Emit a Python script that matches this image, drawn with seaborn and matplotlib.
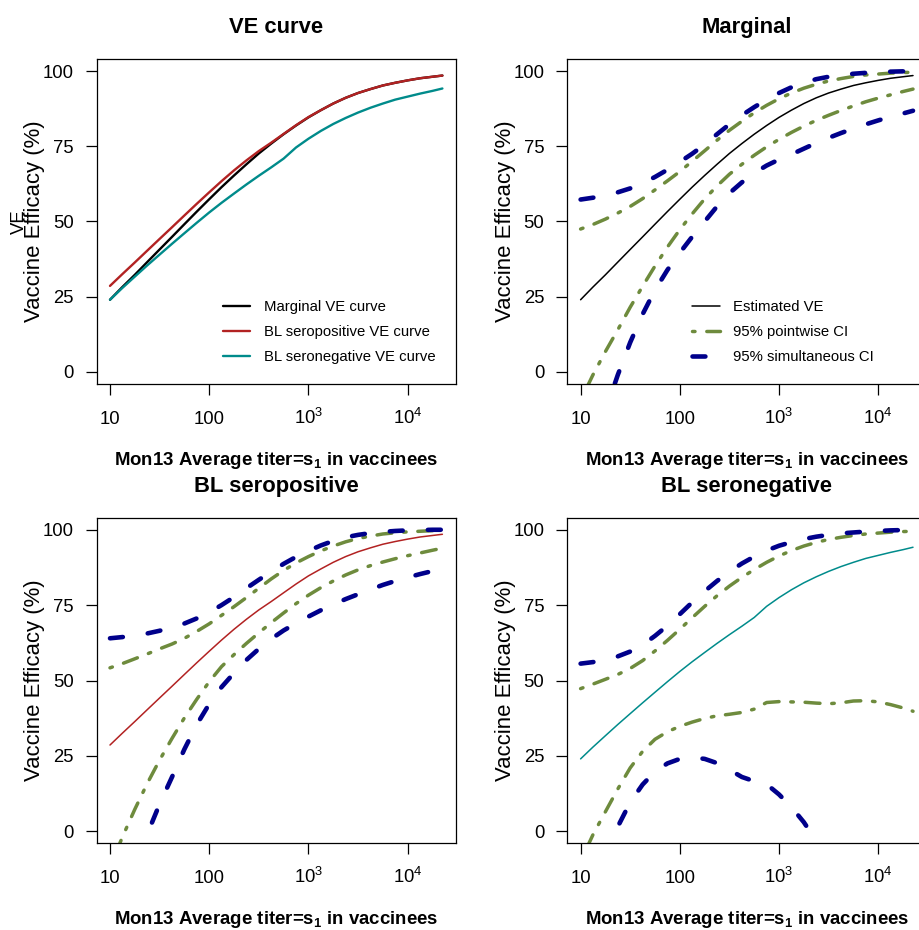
import numpy as np
import pandas as pd
import matplotlib
matplotlib.use("Agg")
import matplotlib.pyplot as plt
from matplotlib.ticker import NullLocator
import seaborn as sns

# Month-13 average titer grid (vaccinees)
titer = [10, 13.3, 17.8, 23.7, 31.6, 42.2, 56.2, 75.0, 100, 133, 178, 237,
         316, 422, 562, 750, 1000, 1334, 1778, 2371, 3162, 4217, 5623, 7499,
         10000, 13335, 17783, 22400]

# VE curves (%)
ve_marginal = [24.0, 28.2, 32.3, 36.5, 40.7, 44.9, 49.1, 53.3, 57.4, 61.4, 65.3, 69.0,
               72.6, 75.9, 79.0, 81.9, 84.6, 87.0, 89.2, 91.1, 92.7, 94.0, 95.2, 96.1,
               96.9, 97.6, 98.1, 98.5]
ve_seropos = [28.6, 32.5, 36.4, 40.3, 44.2, 48.1, 52.0, 55.9, 59.7, 63.4, 67.0, 70.3,
              73.4, 76.2, 79.1, 82.0, 84.7, 87.0, 89.2, 91.1, 92.7, 94.0, 95.2, 96.1,
              96.9, 97.6, 98.1, 98.5]
ve_seroneg = [24.0, 27.9, 31.7, 35.4, 39.0, 42.6, 46.1, 49.6, 53.0, 56.2, 59.3, 62.3,
              65.2, 68.0, 70.9, 74.6, 77.5, 80.1, 82.4, 84.4, 86.2, 87.8, 89.2, 90.5,
              91.5, 92.5, 93.4, 94.2]

# Marginal confidence bands
marg_pw_lo = [-9.5, -1.0, 6.8, 14.0, 21.5, 28.5, 35.2, 41.5, 47.3, 52.5, 57.5, 61.8,
              65.7, 69.0, 72.0, 74.8, 77.3, 79.6, 81.7, 83.6, 85.3, 86.9, 88.4, 89.8,
              91.0, 92.1, 93.2, 94.0]
marg_pw_hi = [47.5, 49.0, 50.8, 52.8, 55.0, 57.6, 60.5, 63.5, 66.6, 70.0, 73.5, 77.0,
              80.3, 83.3, 86.1, 88.6, 90.8, 92.7, 94.3, 95.6, 96.7, 97.5, 98.2, 98.7,
              99.0, 99.3, 99.5, 99.6]
marg_sim_lo = [-40, -26, -13, -1.0, 9.8, 19.2, 27.2, 33.9, 39.6, 44.9, 50.0, 55.0,
               59.4, 63.0, 66.1, 68.6, 70.6, 72.3, 74.2, 76.1, 77.8, 79.4, 80.9, 82.3,
               83.6, 84.8, 85.9, 86.8]
marg_sim_hi = [57.3, 57.9, 58.7, 59.7, 61.0, 62.7, 64.8, 67.2, 69.8, 72.5, 75.6, 79.0,
               82.3, 85.3, 88.0, 90.5, 92.7, 94.6, 96.1, 97.3, 98.1, 98.7, 99.1, 99.4,
               99.6, 99.8, 99.9, 99.9]

# BL seropositive confidence bands
pos_pw_lo = [-12, -2.0, 7.3, 15.8, 23.6, 30.8, 37.6, 43.8, 49.6, 54.6, 58.6, 62.3,
             65.8, 69.2, 72.4, 75.5, 78.3, 80.8, 83.0, 85.0, 86.7, 88.1, 89.3, 90.4,
             91.4, 92.3, 93.2, 93.9]
pos_pw_hi = [54.2, 55.6, 57.2, 58.8, 60.5, 62.1, 64.0, 66.3, 68.8, 71.6, 74.5, 77.5,
             80.6, 83.7, 86.5, 89.0, 91.1, 93.0, 94.6, 96.0, 97.1, 97.9, 98.6, 99.0,
             99.3, 99.5, 99.7, 99.8]
pos_sim_lo = [-40, -27, -13, -1.0, 9.0, 18.0, 27.2, 35.4, 42.2, 47.8, 52.5, 56.8,
              60.5, 63.8, 66.6, 69.0, 71.2, 73.3, 75.2, 77.0, 78.6, 80.2, 81.7, 83.0,
              84.2, 85.3, 86.3, 87.0]
pos_sim_hi = [64.0, 64.4, 64.9, 65.6, 66.5, 67.6, 68.9, 70.6, 72.6, 75.0, 77.7, 80.6,
              83.4, 86.1, 88.7, 91.0, 93.0, 94.8, 96.3, 97.5, 98.3, 98.9, 99.3, 99.6,
              99.8, 99.9, 100.0, 100.0]

# BL seronegative confidence bands
neg_pw_lo = [-10, -1.2, 6.5, 14.0, 21.0, 26.5, 30.5, 33.0, 34.8, 36.2, 37.4, 38.3,
             38.8, 39.4, 40.5, 42.7, 43.0, 42.9, 42.8, 42.5, 42.3, 42.6, 43.2, 43.3,
             42.9, 42.0, 40.9, 39.8]
neg_pw_hi = [47.3, 48.8, 50.4, 52.0, 54.0, 56.6, 59.8, 63.3, 67.0, 70.8, 74.6, 78.1,
             81.3, 84.2, 86.8, 89.2, 91.3, 93.1, 94.6, 95.8, 96.8, 97.5, 98.1, 98.6,
             98.9, 99.2, 99.4, 99.5]
neg_sim_lo = [-35, -20, -7.5, 1.5, 9.6, 15.5, 19.8, 22.5, 24.0, 24.5, 24.0, 22.6,
              20.4, 18.0, 16.6, 15.6, 12.2, 8.0, 3.0, -3.2, -10, -17, -24, -31,
              -38, -45, -52, -58]
neg_sim_hi = [55.6, 56.1, 56.9, 58.0, 59.6, 61.8, 64.8, 68.2, 72.0, 75.9, 79.6, 83.0,
              86.1, 88.8, 91.1, 93.1, 94.7, 95.9, 96.9, 97.7, 98.3, 98.8, 99.1, 99.4,
              99.6, 99.8, 99.9, 100.0]

df = pd.DataFrame({
    "titer": titer,
    "ve_marginal": ve_marginal, "ve_seropos": ve_seropos, "ve_seroneg": ve_seroneg,
    "marg_pw_lo": marg_pw_lo, "marg_pw_hi": marg_pw_hi,
    "marg_sim_lo": marg_sim_lo, "marg_sim_hi": marg_sim_hi,
    "pos_pw_lo": pos_pw_lo, "pos_pw_hi": pos_pw_hi,
    "pos_sim_lo": pos_sim_lo, "pos_sim_hi": pos_sim_hi,
    "neg_pw_lo": neg_pw_lo, "neg_pw_hi": neg_pw_hi,
    "neg_sim_lo": neg_sim_lo, "neg_sim_hi": neg_sim_hi,
})

xtick_vals = [10, 100, 1000, 10000]
xtick_text = ["10", "100", r"$\mathregular{10^3}$", r"$\mathregular{10^4}$"]
ytick_vals = [0, 25, 50, 75, 100]

COL_MARG = "black"
COL_POS = "#B22222"
COL_NEG = "#008B8B"
COL_PW = "#6E8B3D"
COL_SIM = "#00008B"

sns.set_theme(style="ticks")
plt.rcParams.update({
    "font.family": ["Liberation Sans", "DejaVu Sans"],
    "mathtext.fontset": "custom",
    "mathtext.rm": "Liberation Sans",
    "mathtext.it": "Liberation Sans:italic",
    "mathtext.bf": "Liberation Sans:bold",
    "axes.edgecolor": "black",
    "axes.linewidth": 0.9,
    "axes.facecolor": "white",
    "figure.facecolor": "white",
    "text.color": "black",
    "axes.labelcolor": "black",
    "xtick.color": "black",
    "ytick.color": "black",
    "xtick.major.size": 7.9,
    "ytick.major.size": 7.9,
    "xtick.major.width": 0.9,
    "ytick.major.width": 0.9,
    "xtick.labelsize": 13.3,
    "ytick.labelsize": 13.3,
    "lines.scale_dashes": False,
})

W, H = 919, 930
fig = plt.figure(figsize=(W / 100, H / 100), dpi=100)


def box(x0, y0, x1, y1):
    return [x0 / W, 1 - y1 / H, (x1 - x0) / W, (y1 - y0) / H]


PW_STYLE = dict(color=COL_PW, linewidth=2.5, linestyle=(0, (1.8, 8.5, 10.7, 8.5)),
                dash_capstyle="round")
SIM_STYLE = dict(color=COL_SIM, linewidth=3.3, linestyle=(0, (9.3, 18.1)),
                 dash_capstyle="round")

lx = np.log10(min(titer))
hx = np.log10(max(titer))
padx = 0.04 * (hx - lx)
XLIM = (10 ** (lx - padx), 10 ** (hx + padx))
YLIM = (-4, 104)


def style_axes(ax, title):
    ax.set_xscale("log")
    ax.set_xlim(*XLIM)
    ax.set_ylim(*YLIM)
    ax.set_xticks(xtick_vals, labels=xtick_text)
    ax.xaxis.set_minor_locator(NullLocator())
    ax.set_yticks(ytick_vals)
    ax.tick_params(axis="both", direction="out", length=7.9, width=0.9)
    ax.tick_params(axis="x", pad=20.9)
    ax.tick_params(axis="y", pad=8.6)
    for t in ax.get_xticklabels():
        t.set_verticalalignment("baseline")
    for s in ax.spines.values():
        s.set_visible(True)
        s.set_color("black")
    ax.set_title(title, fontsize=15.8, fontweight="bold", pad=18.5)
    ax.set_ylabel("Vaccine Efficacy (%)", fontsize=15.9)
    ax.yaxis.set_label_coords(-0.172, 0.5)
    ax.yaxis.label.set_va("center")
    ax.set_xlabel(r"Mon13 Average titer=s$_\mathregular{1}$ in vaccinees",
                  fontsize=13.4, fontweight="bold")
    ax.xaxis.set_label_coords(0.5, -81 / 325)
    ax.xaxis.label.set_va("baseline")


def line(ax, col, label=None, **kw):
    sns.lineplot(data=df, x="titer", y=col, ax=ax, estimator=None, sort=False,
                 label=label, legend=False, **kw)


LEG = dict(loc="upper left", frameon=False, fontsize=10.7, handlelength=1.85,
           handletextpad=0.9, labelspacing=0.72, borderpad=0, borderaxespad=0)

# VE curve
ax1 = fig.add_axes(box(96.7, 59, 455.7, 384))
ax1.set_xscale("log")
line(ax1, "ve_marginal", "Marginal VE curve", color=COL_MARG, linewidth=1.7)
line(ax1, "ve_seropos", "BL seropositive VE curve", color=COL_POS, linewidth=1.7)
line(ax1, "ve_seroneg", "BL seronegative VE curve", color=COL_NEG, linewidth=1.7)
style_axes(ax1, "VE curve")
ax1.text(-0.216, 0.5, "VE", transform=ax1.transAxes, rotation=90,
         ha="center", va="center", fontsize=13.3)
ax1.legend(bbox_to_anchor=(0.351, 0.257), **LEG)

# Marginal
ax2 = fig.add_axes(box(567.3, 59, 926.3, 384))
ax2.set_xscale("log")
line(ax2, "ve_marginal", "Estimated VE", color=COL_MARG, linewidth=1.1)
line(ax2, "marg_pw_lo", "95% pointwise CI", **PW_STYLE)
line(ax2, "marg_pw_hi", None, **PW_STYLE)
line(ax2, "marg_sim_lo", "95% simultaneous CI", **SIM_STYLE)
line(ax2, "marg_sim_hi", None, **SIM_STYLE)
style_axes(ax2, "Marginal")
ax2.legend(bbox_to_anchor=(0.348, 0.257), **LEG)

# BL seropositive
ax3 = fig.add_axes(box(96.7, 517.7, 455.7, 843.3))
ax3.set_xscale("log")
line(ax3, "ve_seropos", None, color=COL_POS, linewidth=1.1)
line(ax3, "pos_pw_lo", None, **PW_STYLE)
line(ax3, "pos_pw_hi", None, **PW_STYLE)
line(ax3, "pos_sim_lo", None, **SIM_STYLE)
line(ax3, "pos_sim_hi", None, **SIM_STYLE)
style_axes(ax3, "BL seropositive")

# BL seronegative
ax4 = fig.add_axes(box(567.3, 517.7, 926.3, 843.3))
ax4.set_xscale("log")
line(ax4, "ve_seroneg", None, color=COL_NEG, linewidth=1.1)
line(ax4, "neg_pw_lo", None, **PW_STYLE)
line(ax4, "neg_pw_hi", None, **PW_STYLE)
line(ax4, "neg_sim_lo", None, **SIM_STYLE)
line(ax4, "neg_sim_hi", None, **SIM_STYLE)
style_axes(ax4, "BL seronegative")

fig.savefig("out.png", dpi=100)
